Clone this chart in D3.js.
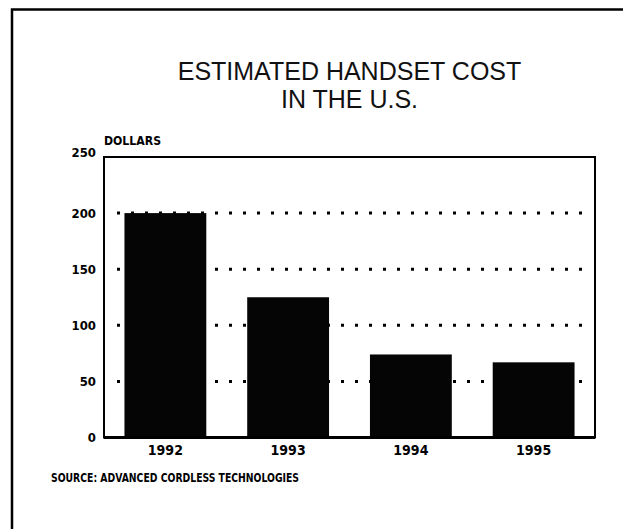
<!DOCTYPE html>
<html>
<head>
<meta charset="utf-8">
<script src="https://cdn.jsdelivr.net/npm/d3@7"></script>
<style>
  html, body { margin: 0; padding: 0; background: #fff; }
  svg { display: block; }
  .narrow { font-family: "Liberation Sans Narrow", "DejaVu Sans Condensed", "Liberation Sans", sans-serif; font-weight: bold; }
</style>
</head>
<body>
<script>
// Estimated handset cost in the U.S., dollars per year
const years = ["1992", "1993", "1994", "1995"];
const costs = [200, 125, 74, 67];
const yTicks = [0, 50, 100, 150, 200, 250];
const gridValues = [50, 100, 150, 200];
const titleLines = ["ESTIMATED HANDSET COST", "IN THE U.S."];
const unitLabel = "DOLLARS";
const sourceNote = "SOURCE: ADVANCED CORDLESS TECHNOLOGIES";

const W = 623, H = 529;
const plot = { left: 104, right: 595, top: 157, bottom: 437.5 };

const svg = d3.select("body").append("svg")
  .attr("width", W).attr("height", H);

svg.append("rect").attr("width", W).attr("height", H).attr("fill", "#fff");

// Page border: top and left rules
svg.append("path")
  .attr("d", `M12,${H} L12,9.5 L${W},9.5`)
  .attr("fill", "none").attr("stroke", "#000").attr("stroke-width", 2.5);

// Title
svg.append("g").selectAll("text").data(titleLines).join("text")
  .attr("x", (plot.left + plot.right) / 2)
  .attr("y", (d, i) => 80 + i * 28)
  .attr("text-anchor", "middle")
  .attr("font-family", "'Liberation Sans', Arial, sans-serif")
  .attr("font-size", 25)
  .attr("fill", "#111")
  .text(d => d);

const x = d3.scaleBand()
  .domain(years)
  .range([plot.left, plot.right])
  .paddingInner(1 / 3)
  .paddingOuter(1 / 6);

const y = d3.scaleLinear()
  .domain([0, 250])
  .range([plot.bottom, plot.top]);

// Dotted gridlines behind the bars
svg.append("g").selectAll("line").data(gridValues).join("line")
  .attr("x1", plot.left + 13).attr("x2", plot.right - 2)
  .attr("y1", d => y(d)).attr("y2", d => y(d))
  .attr("stroke", "#000")
  .attr("stroke-width", 3)
  .attr("stroke-dasharray", "3,11");

// Bars
svg.append("g").selectAll("rect").data(years).join("rect")
  .attr("x", d => x(d))
  .attr("width", x.bandwidth())
  .attr("y", (d, i) => y(costs[i]))
  .attr("height", (d, i) => y(0) - y(costs[i]))
  .attr("fill", "#050505");

// Plot frame
svg.append("rect")
  .attr("x", plot.left).attr("y", plot.top)
  .attr("width", plot.right - plot.left)
  .attr("height", plot.bottom - plot.top)
  .attr("fill", "none").attr("stroke", "#000").attr("stroke-width", 2);

svg.append("line")
  .attr("x1", plot.left).attr("x2", plot.right)
  .attr("y1", plot.bottom).attr("y2", plot.bottom)
  .attr("stroke", "#000").attr("stroke-width", 3);

// Y axis labels
const yAxis = d3.axisLeft(y).tickValues(yTicks).tickSize(0).tickPadding(8);
const gy = svg.append("g")
  .attr("transform", `translate(${plot.left},0)`)
  .call(yAxis);
gy.select(".domain").remove();
gy.selectAll("text")
  .attr("class", "narrow")
  .attr("font-size", 13)
  .attr("fill", "#000")
  .attr("dy", d => d === 250 ? "-0.05em" : "0.32em");

// X axis labels
const xAxis = d3.axisBottom(x).tickSize(0).tickPadding(8);
const gx = svg.append("g")
  .attr("transform", `translate(0,${plot.bottom})`)
  .call(xAxis);
gx.select(".domain").remove();
gx.selectAll("text")
  .attr("class", "narrow")
  .attr("font-size", 14)
  .attr("fill", "#000");

// Unit label
svg.append("text")
  .attr("class", "narrow")
  .attr("x", plot.left).attr("y", 145)
  .attr("font-size", 13)
  .attr("textLength", 57)
  .attr("lengthAdjust", "spacingAndGlyphs")
  .text(unitLabel);

// Source note
svg.append("text")
  .attr("class", "narrow")
  .attr("x", 51).attr("y", 482)
  .attr("font-size", 13)
  .attr("textLength", 248)
  .attr("lengthAdjust", "spacingAndGlyphs")
  .text(sourceNote);
</script>
</body>
</html>
